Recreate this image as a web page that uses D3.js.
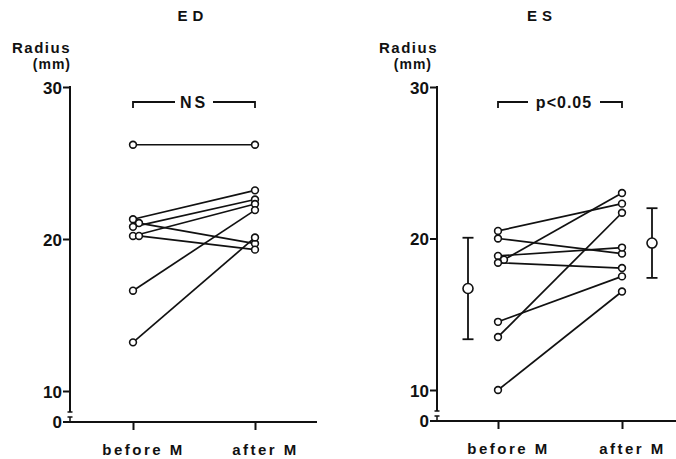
<!DOCTYPE html>
<html lang="en">
<head>
  <meta charset="UTF-8">
  <title>ED / ES radius before and after M</title>
  <script src="https://d3js.org/d3.v7.min.js"></script>
  <style>
    body { margin: 0; background: #fff; }
    svg { display: block; }
    text { font-family: "Liberation Sans", Arial, sans-serif; font-weight: bold; fill: #111; }
    .tick text { font-size: 17px; }
    .xlab text { font-size: 15px; letter-spacing: 2.5px; }
  </style>
</head>
<body>
<script>
  // ---- data (radius, mm) ----
  const phases = ["before M", "after M"];
  const yTicks = [10, 20, 30];

  const edBefore = [26.2, 21.3, 21.05, 20.8, 20.2, 20.2, 16.6, 13.2];
  const edAfter  = [26.2, 23.2, 19.7, 22.6, 22.3, 19.3, 21.9, 20.1];

  const esBefore = [20.5, 20.0, 18.85, 18.6, 18.4, 14.5, 13.5, 10.0];
  const esAfter  = [22.3, 19.0, 19.4, 23.0, 18.05, 17.5, 21.7, 16.5];
  const esMean = [16.7, 19.7];
  const esSd   = [3.35, 2.3];

  const svg = d3.select("body").append("svg")
    .attr("width", 676)
    .attr("height", 459);

  function drawPanel(p) {
    const g = svg.append("g");
    const y = d3.scaleLinear().domain([10, 30]).range([p.y10, p.y30]);
    const x = d3.scalePoint().domain(phases).range([p.xb, p.xa]);
    const y0 = p.y10 + 31;

    // title + y label
    g.append("text").attr("x", p.titleX).attr("y", 21)
      .attr("text-anchor", "middle").style("font-size", "15px")
      .style("letter-spacing", "5px").text(p.title);
    g.append("text").attr("x", p.ax + 1).attr("y", 53)
      .attr("text-anchor", "end").style("font-size", "15px")
      .style("letter-spacing", "1.5px").text("Radius");
    g.append("text").attr("x", p.ax + 1 - p.mmShift).attr("y", 69)
      .attr("text-anchor", "end").style("font-size", "14px")
      .style("letter-spacing", "1px").text("(mm)");

    // y axis
    const yAxis = g.append("g")
      .attr("transform", `translate(${p.ax},0)`)
      .call(d3.axisLeft(y).tickValues(yTicks).tickSize(7).tickPadding(1));
    yAxis.select(".domain").remove();
    yAxis.selectAll("line").attr("stroke", "#111").attr("stroke-width", 2);
    yAxis.selectAll("text").attr("dy", "0.36em");

    g.append("line").attr("x1", p.ax).attr("x2", p.ax)
      .attr("y1", y(30) - 1).attr("y2", y0 - 10)
      .attr("stroke", "#111").attr("stroke-width", 2);
    // axis break
    g.append("line").attr("x1", p.ax - 2.5).attr("x2", p.ax + 2.5)
      .attr("y1", y0 - 10).attr("y2", y0 - 10).attr("stroke", "#111").attr("stroke-width", 1.5);
    g.append("line").attr("x1", p.ax - 2.5).attr("x2", p.ax + 2.5)
      .attr("y1", y0 - 5).attr("y2", y0 - 5).attr("stroke", "#111").attr("stroke-width", 1.5);
    g.append("line").attr("x1", p.ax).attr("x2", p.ax)
      .attr("y1", y0 - 5).attr("y2", y0)
      .attr("stroke", "#111").attr("stroke-width", 1.5);

    // zero label and tick
    g.append("line").attr("x1", p.ax - 7).attr("x2", p.ax)
      .attr("y1", y0).attr("y2", y0).attr("stroke", "#111").attr("stroke-width", 2);
    g.append("text").attr("x", p.ax - 8).attr("y", y0).attr("dy", "0.36em")
      .attr("text-anchor", "end").style("font-size", "17px").text("0");

    // baseline + x axis
    g.append("line").attr("x1", p.ax).attr("x2", p.xEnd)
      .attr("y1", y0).attr("y2", y0).attr("stroke", "#111").attr("stroke-width", 2);
    const xAxis = g.append("g").attr("class", "xlab")
      .attr("transform", `translate(0,${y0})`)
      .call(d3.axisBottom(x).tickSize(8).tickPadding(14));
    xAxis.select(".domain").remove();
    xAxis.selectAll("line").attr("stroke", "#111").attr("stroke-width", 2);
    xAxis.selectAll("text").attr("dx", p.labShift);

    // significance bracket
    const by = 102;
    const gap = p.gap;
    const mid = (x(phases[0]) + x(phases[1])) / 2 + p.sigShift;
    g.append("path")
      .attr("d", `M${x(phases[0])},${by + 6}V${by}H${mid - gap}M${mid + gap},${by}H${x(phases[1])}V${by + 6}`)
      .attr("fill", "none").attr("stroke", "#111").attr("stroke-width", 1.8);
    g.append("text").attr("x", mid).attr("y", by).attr("dy", "0.36em")
      .attr("text-anchor", "middle").style("font-size", "16px")
      .style("letter-spacing", p.sigSpacing).text(p.sig);

    // paired points with small dodge for overlapping circles
    const pts = [];
    function place(phase, v) {
      const cx0 = x(phase), cy = y(v);
      let dx = 0;
      while (pts.some(q => Math.hypot(q[0] - (cx0 + dx), q[1] - cy) < 4)) dx += 6;
      pts.push([cx0 + dx, cy]);
      return [cx0 + dx, cy];
    }
    const pairs = p.before.map((b, i) => [place(phases[0], b), place(phases[1], p.after[i])]);

    g.selectAll(".pair").data(pairs).enter().append("line")
      .attr("x1", d => d[0][0]).attr("y1", d => d[0][1])
      .attr("x2", d => d[1][0]).attr("y2", d => d[1][1])
      .attr("stroke", "#111").attr("stroke-width", 1.7);

    g.selectAll(".pt").data(pairs.flat()).enter().append("circle")
      .attr("cx", d => d[0]).attr("cy", d => d[1]).attr("r", 3.4)
      .attr("fill", "#fff").attr("stroke", "#111").attr("stroke-width", 1.6);

    // mean +/- SD
    if (p.mean) {
      const mx = [x(phases[0]) - 30, x(phases[1]) + 30];
      p.mean.forEach((m, i) => {
        const lo = y(m - p.sd[i]), hi = y(m + p.sd[i]);
        g.append("line").attr("x1", mx[i]).attr("x2", mx[i]).attr("y1", hi).attr("y2", lo)
          .attr("stroke", "#111").attr("stroke-width", 1.8);
        [hi, lo].forEach(c => g.append("line").attr("x1", mx[i] - 5.5).attr("x2", mx[i] + 5.5)
          .attr("y1", c).attr("y2", c).attr("stroke", "#111").attr("stroke-width", 1.8));
        g.append("circle").attr("cx", mx[i]).attr("cy", y(m)).attr("r", 5)
          .attr("fill", "#fff").attr("stroke", "#111").attr("stroke-width", 1.6);
      });
    }
  }

  drawPanel({
    title: "ED", titleX: 193, ax: 70, xb: 133, xa: 255, xEnd: 317,
    y10: 391, y30: 87, before: edBefore, after: edAfter,
    sig: "NS", gap: 19, sigShift: 0, sigSpacing: "3px", labShift: 10, mmShift: 0
  });

  drawPanel({
    title: "ES", titleX: 542, ax: 437, xb: 498, xa: 622, xEnd: 676,
    y10: 390, y30: 87, before: esBefore, after: esAfter,
    mean: esMean, sd: esSd,
    sig: "p<0.05", gap: 36, sigShift: 4, sigSpacing: "1px", labShift: 10, mmShift: 6
  });
</script>
</body>
</html>
